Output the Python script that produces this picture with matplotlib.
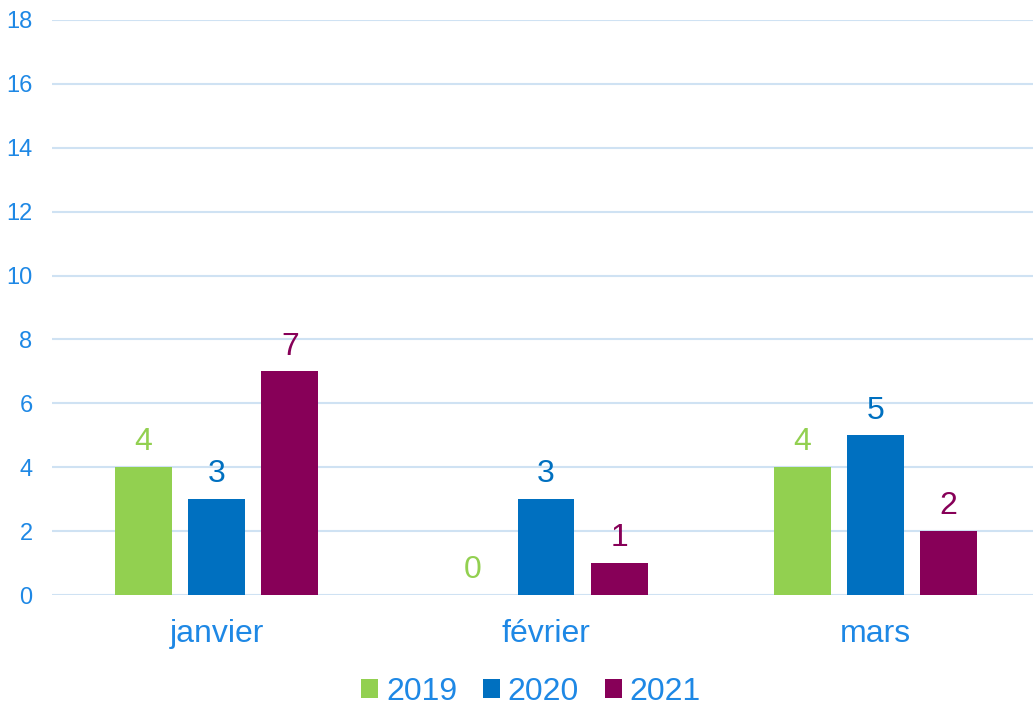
#!/usr/bin/env python3
import matplotlib
matplotlib.use('Agg')
import matplotlib.pyplot as plt
import numpy as np

months = ['janvier', 'février', 'mars']
years = ['2019', '2020', '2021']
values = {
    '2019': [4, 0, 4],
    '2020': [3, 3, 5],
    '2021': [7, 1, 2],
}
colors = {'2019': '#92D050', '2020': '#0070C0', '2021': '#870058'}
text_blue = '#1E88E5'

plt.rcParams['font.family'] = ['Liberation Sans', 'DejaVu Sans']

fig = plt.figure(figsize=(10.33, 7.07), dpi=100)
ax = fig.add_axes([52 / 1033, 1 - 595 / 707, (1040 - 52) / 1033, (595 - 20) / 707])

x = np.arange(len(months))
width = 0.173
step = 0.222

for i, year in enumerate(years):
    pos = x + (i - 1) * step
    bars = ax.bar(pos, values[year], width, color=colors[year], label=year, zorder=3)
    for b, v in zip(bars, values[year]):
        ax.annotate(str(v), (b.get_x() + b.get_width() / 2, v),
                    xytext=(0, 7), textcoords='offset points',
                    ha='center', va='bottom', fontsize=23, color=colors[year])

ax.set_xlim(-0.5, 2.5)
ax.set_ylim(0, 18)
ax.set_yticks(np.arange(0, 19, 2))
ax.set_xticks(x)
ax.set_xticklabels(months, fontsize=23, color=text_blue)
ax.tick_params(axis='y', labelsize=17, labelcolor=text_blue, length=0, pad=14)
ax.tick_params(axis='x', length=0, pad=17)
ax.grid(axis='y', color='#CFE2F3', linewidth=1.5, zorder=0)
for s in ax.spines.values():
    s.set_visible(False)

fig.legend(loc='center', bbox_to_anchor=(531 / 1033, 1 - 692 / 707), ncol=3, frameon=False,
           fontsize=23, labelcolor=text_blue, handlelength=0.53, handleheight=0.53,
           handletextpad=0.25, columnspacing=0.8)

fig.savefig('out.png', dpi=100)
